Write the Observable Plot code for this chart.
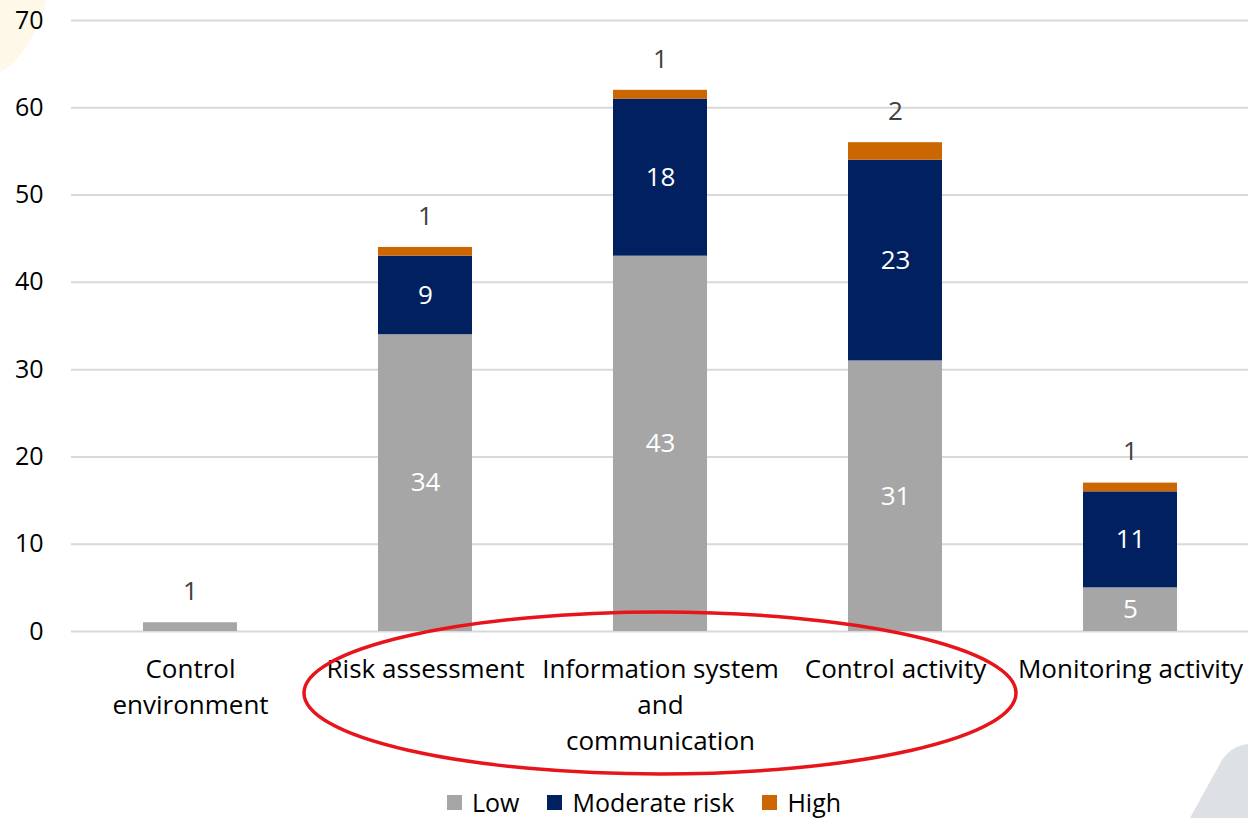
<!DOCTYPE html>
<html>
<head>
<meta charset="utf-8">
<script src="https://cdn.jsdelivr.net/npm/d3@7"></script>
<script src="https://cdn.jsdelivr.net/npm/@observablehq/plot@0.6"></script>
<style>
  html, body { margin: 0; padding: 0; background: #fff; }
  body { width: 1248px; height: 818px; position: relative; overflow: hidden; font-family: "Open Sans", sans-serif; }
  #deco { position: absolute; left: 0; top: 0; z-index: 0; }
  #chart { position: absolute; left: 0; top: 0; z-index: 1; }
  #overlay { position: absolute; left: 0; top: 0; z-index: 2; pointer-events: none; }
  #legend { position: absolute; left: 20px; top: 785px; width: 1248px; display: flex; justify-content: center; align-items: center; font-size: 25px; color: #000; z-index: 3; }
  #legend .item { display: flex; align-items: center; margin: 0 14px; }
  #legend .sw { width: 15px; height: 15px; margin-right: 10px; }
</style>
</head>
<body>
<svg id="deco" width="1248" height="818">
  <path d="M0,0 L46,0 C40,30 20,62 0,72 Z" fill="#fdf8e8"/>
  <path d="M1190,818 L1222,760 C1230,748 1240,745 1248,744 L1248,818 Z" fill="#dde0e4"/>
</svg>
<div id="chart"></div>
<svg id="overlay" width="1248" height="818">
  <ellipse cx="660" cy="693" rx="356" ry="81" fill="none" stroke="#e8141c" stroke-width="3.5"/>
</svg>
<div id="legend"></div>
<script>
// Internal control components and count of findings by risk level
const categories = [
  "Control\nenvironment",
  "Risk assessment",
  "Information system\nand\ncommunication",
  "Control activity",
  "Monitoring activity"
];
const levels = ["Low", "Moderate risk", "High"];
const low      = [1, 34, 43, 31, 5];
const moderate = [0, 9, 18, 23, 11];
const high     = [0, 1, 1, 2, 1];
const yTicks = [0, 10, 20, 30, 40, 50, 60, 70];
const colors = ["#a6a6a6", "#002060", "#cc6600"];

const series = [low, moderate, high];
const rows = [];
categories.forEach((c, i) => {
  levels.forEach((lv, j) => {
    rows.push({category: c, level: lv, value: series[j][i]});
  });
});
const totals = categories.map((c, i) => ({category: c, total: low[i] + moderate[i] + high[i], label: null}));
// small segments get their label placed above the stack
rows.forEach(r => {
  if (r.value > 0 && r.value < 5) {
    const t = totals.find(t => t.category === r.category);
    t.label = r.value;
  }
});
const inside = rows.filter(r => r.value >= 5);

const chart = Plot.plot({
  width: 1248,
  height: 770,
  marginLeft: 71,
  marginRight: 0,
  marginTop: 20,
  marginBottom: 139,
  style: {fontFamily: "'Open Sans', sans-serif", fontSize: "25px", background: "transparent"},
  x: {domain: categories, paddingInner: 0.6, paddingOuter: 0.3, label: null},
  y: {domain: [0, 70], label: null},
  color: {domain: levels, range: colors},
  marks: [
    Plot.gridY(yTicks, {stroke: "#d9d9d9", strokeOpacity: 1, strokeWidth: 2}),
    Plot.barY(rows, Plot.stackY({x: "category", y: "value", fill: "level", order: levels})),
    Plot.text(inside, Plot.stackY({x: "category", y: "value", z: "level", order: levels, text: d => String(d.value), fill: "#fff", fontSize: 26})),
    Plot.text(totals.filter(t => t.label != null), {x: "category", y: "total", text: d => String(d.label), dy: -31, fill: "#404040", fontSize: 26}),
    Plot.axisY(yTicks, {tickSize: 0, tickPadding: 28, fontSize: 25, fill: "#000", label: null}),
    Plot.axisX({tickSize: 0, tickPadding: 21, fontSize: 26, lineHeight: 1.385, fill: "#000", label: null})
  ]
});
document.getElementById("chart").appendChild(chart);

const legend = document.getElementById("legend");
levels.forEach((lv, j) => {
  const item = document.createElement("div");
  item.className = "item";
  const sw = document.createElement("div");
  sw.className = "sw";
  sw.style.background = colors[j];
  const tx = document.createElement("span");
  tx.textContent = lv;
  item.appendChild(sw);
  item.appendChild(tx);
  legend.appendChild(item);
});
</script>
</body>
</html>
